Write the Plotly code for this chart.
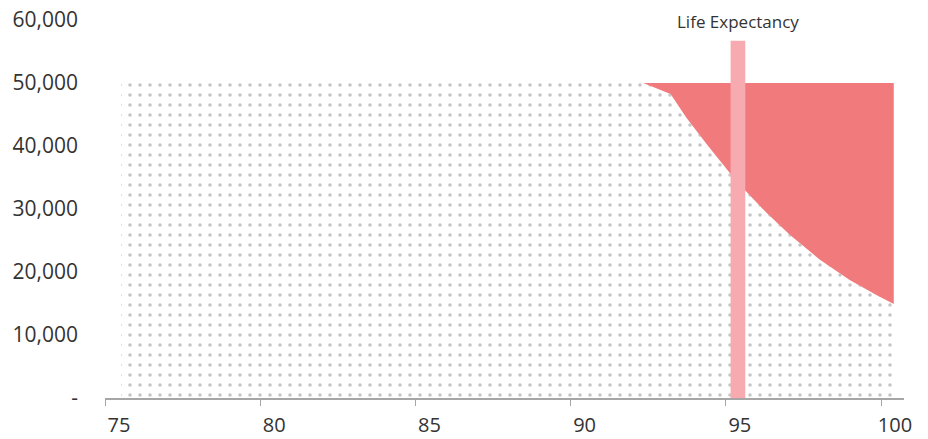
import plotly.graph_objects as go

# Savings pot by age: dotted area = balance still covered, red = shortfall up to the target
target = 50000
covered_age = [75.52, 92.34, 93.22, 93.73, 94.43, 95.13, 95.61, 96.31, 97.06, 98.02, 98.99, 99.85, 100.41]
covered_val = [50000, 50000, 48250, 44500, 40000, 35700, 33000, 29400, 25900, 22000, 18730, 16350, 14920]

# Life expectancy marker
life_exp_age = 95.39
life_exp_top = 56700
life_exp_label = "Life Expectancy"

x_ticks = [75, 80, 85, 90, 95, 100]
y_ticks = [0, 10000, 20000, 30000, 40000, 50000, 60000]
y_ticktext = ["-", "10,000", "20,000", "30,000", "40,000", "50,000", "60,000"]

RED = "#F17A7D"
PINK = "#F7ABB0"
DOT = "#8C8C8C"
TEXT = "#333333"
FONT = "Open Sans"

fig = go.Figure()

# dotted area: covered balance
fig.add_trace(go.Scatter(
    x=covered_age, y=covered_val, mode="lines", line=dict(width=0),
    fill="tozeroy", fillcolor="white",
    fillpattern=dict(shape=".", fgcolor=DOT, bgcolor="white", size=10, solidity=0.1),
    hoverinfo="skip", showlegend=False,
))

# red area: shortfall between covered balance and target
short_age = [a for a, v in zip(covered_age, covered_val) if a >= 92.34]
short_val = [v for a, v in zip(covered_age, covered_val) if a >= 92.34]
fig.add_trace(go.Scatter(
    x=short_age + short_age[::-1],
    y=short_val + [target] * len(short_age),
    mode="lines", line=dict(width=0), fill="toself", fillcolor=RED,
    hoverinfo="skip", showlegend=False,
))

# life expectancy bar
fig.add_trace(go.Scatter(
    x=[life_exp_age, life_exp_age], y=[0, life_exp_top], mode="lines",
    line=dict(color=PINK, width=14.7), hoverinfo="skip", showlegend=False,
))
fig.add_annotation(
    x=life_exp_age, y=life_exp_top, text=life_exp_label, showarrow=False,
    yanchor="bottom", yshift=6, font=dict(family=FONT, size=17, color=TEXT),
)

fig.update_layout(
    width=928, height=439,
    margin=dict(l=105, r=24, t=20, b=41),
    paper_bgcolor="white", plot_bgcolor="white",
    font=dict(family=FONT, color=TEXT),
)
fig.update_xaxes(
    range=[75, 100.74], tickvals=x_ticks, ticktext=[str(t) for t in x_ticks],
    showgrid=False, zeroline=False, showline=True, linecolor="#A6A6A6", linewidth=1.5,
    ticks="outside", ticklen=6, tickcolor="#A6A6A6", tickwidth=1,
    ticklabelshift=14, ticklabelstandoff=2, automargin=False,
    tickfont=dict(family=FONT, size=20, color=TEXT),
)
fig.update_yaxes(
    range=[0, 60000], tickvals=y_ticks, ticktext=y_ticktext,
    showgrid=False, zeroline=False, showline=False, ticks="",
    ticklabelstandoff=26, automargin=False,
    tickfont=dict(family=FONT, size=21, color=TEXT),
)

fig.write_html("out.html")
